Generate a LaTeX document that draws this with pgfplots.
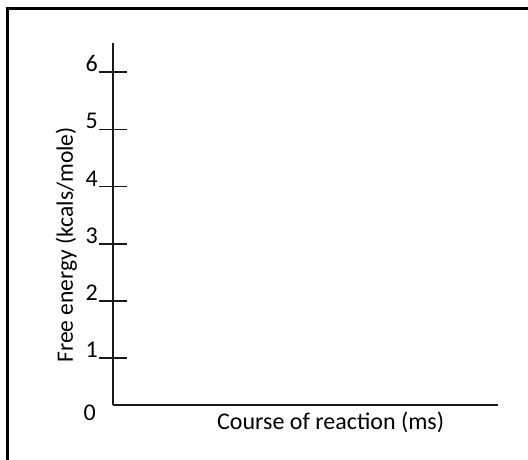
\documentclass[border=0pt]{standalone}
\usepackage{pgfplots}
\pgfplotsset{compat=1.18}
\usepackage{fontspec}
\setmainfont{Carlito}
\begin{document}
\begin{tikzpicture}
\path[use as bounding box] (-113pt,-55pt) rectangle (415pt,405pt);
% frame: only top and left edges
\draw[line width=2.2pt, black] (-105.5pt,-55pt) -- (-105.5pt,396.5pt) -- (415pt,396.5pt);
\begin{axis}[
    at={(0,0)}, anchor=south west,
    scale only axis,
    width=385pt, height=362pt,
    xmin=0, xmax=1,
    ymin=0.18, ymax=6.51,
    axis x line=bottom, axis y line=left,
    axis line style={-, line width=1.8pt, black!90},
    xtick=\empty,
    ytick={1,2,3,4,5,6},
    tick align=center,
    major tick length=28pt,
    tick style={line width=1.6pt, black!90},
    /pgf/number format/assume math mode=true,
    yticklabel style={font=\fontsize{24}{28}\selectfont, anchor=south east, inner sep=0pt, text=black, xshift=-1pt},
    clip=false,
]
\addplot[draw=none, forget plot] coordinates {(0,1) (1,1)};
\node[font=\fontsize{24}{28}\selectfont, anchor=north east, inner sep=0pt, text=black, xshift=-17pt]
    at (rel axis cs:0,0) {0};
\node[font=\fontsize{24}{28}\selectfont, anchor=base west, inner sep=0pt, text=black, xshift=104pt, yshift=-25pt]
    at (rel axis cs:0,0) {Course of reaction (ms)};
\node[font=\fontsize{23.5}{28}\selectfont, xshift=-40pt, rotate=90, anchor=base, inner sep=0pt, text=black]
    at (rel axis cs:0,0.442) {Free energy (kcals/mole)};
\end{axis}
\end{tikzpicture}
\end{document}
